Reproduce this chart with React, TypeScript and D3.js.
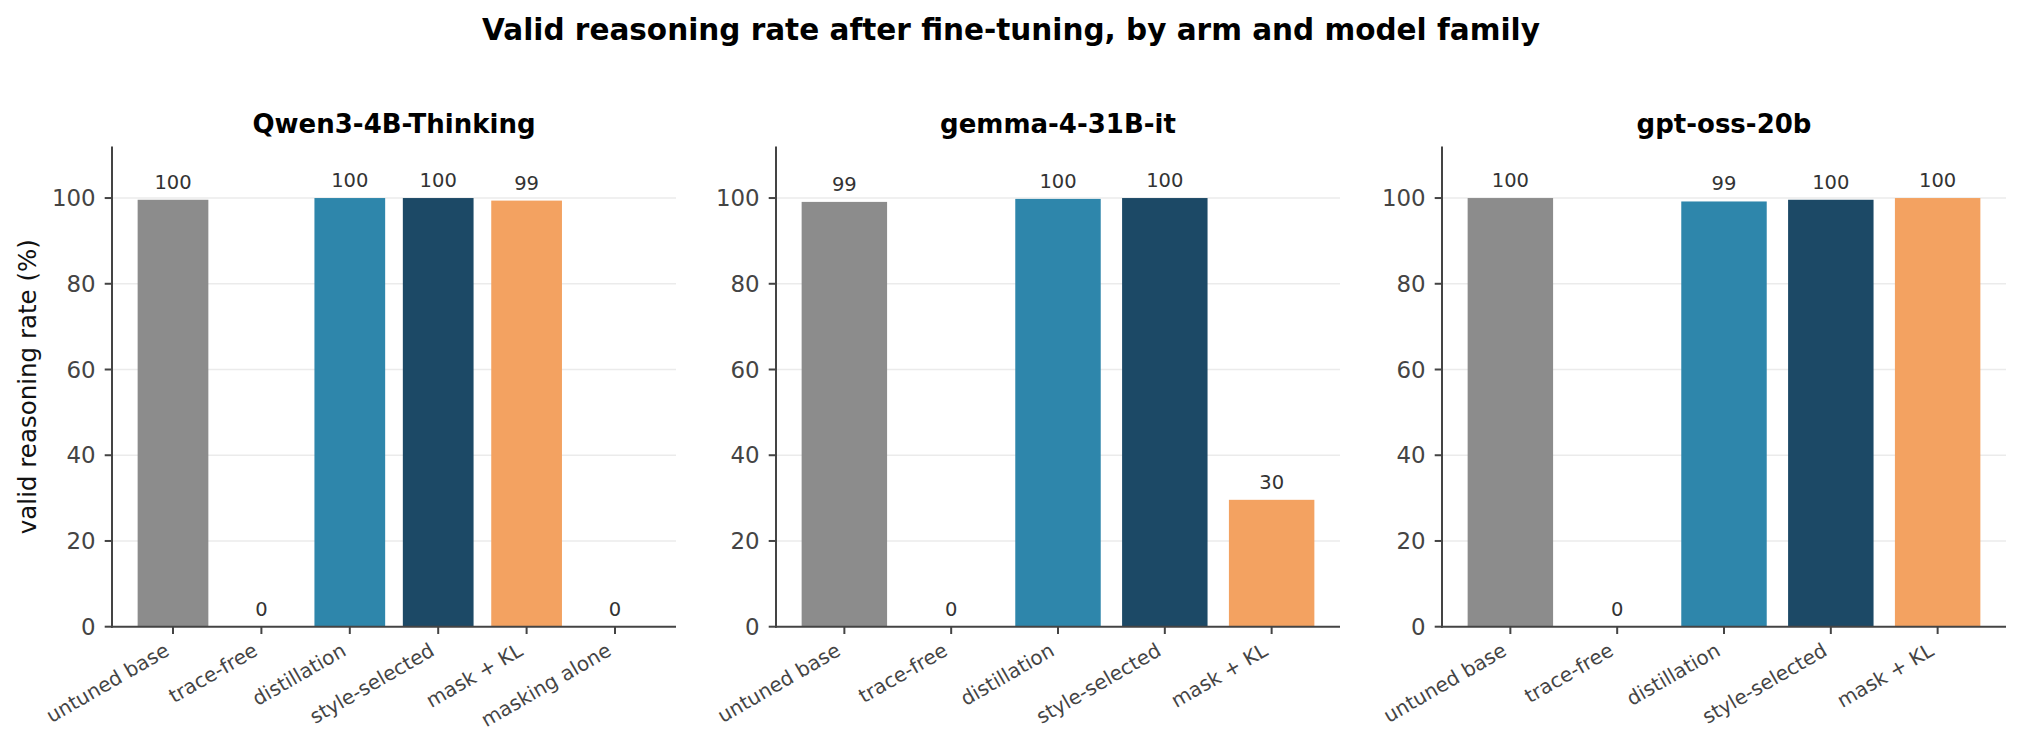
import * as d3 from 'd3';
import React, { useEffect, useRef } from 'react';

// chart data
const families = ['Qwen3-4B-Thinking', 'gemma-4-31B-it', 'gpt-oss-20b'];
const qwenArms = ['untuned base', 'trace-free', 'distillation', 'style-selected', 'mask + KL', 'masking alone'];
const qwenValues = [99.6, 0, 100, 100, 99.4, 0];
const gemmaArms = ['untuned base', 'trace-free', 'distillation', 'style-selected', 'mask + KL'];
const gemmaValues = [99.1, 0, 99.8, 100, 29.6];
const gptArms = ['untuned base', 'trace-free', 'distillation', 'style-selected', 'mask + KL'];
const gptValues = [100, 0, 99.2, 99.6, 100];
const yTicks = [0, 20, 40, 60, 80, 100];

const armColors: Record<string, string> = {
  'untuned base': '#8c8c8c',
  'trace-free': '#c44e52',
  'distillation': '#2e86ab',
  'style-selected': '#1c4966',
  'mask + KL': '#f3a261',
  'masking alone': '#e76f51',
};

const panels = [
  { title: families[0], arms: qwenArms, values: qwenValues },
  { title: families[1], arms: gemmaArms, values: gemmaValues },
  { title: families[2], arms: gptArms, values: gptValues },
];

const WIDTH = 2022;
const HEIGHT = 751;
const FONT = 'DejaVu Sans, sans-serif';

const App: React.FC = () => {
  const svgRef = useRef<SVGSVGElement>(null);

  useEffect(() => {
    if (!svgRef.current) return;
    const svg = d3.select(svgRef.current);
    svg.selectAll('*').remove();

    svg.append('rect').attr('width', WIDTH).attr('height', HEIGHT).attr('fill', '#fff');

    // suptitle
    svg.append('text')
      .attr('x', WIDTH / 2)
      .attr('y', 40)
      .attr('text-anchor', 'middle')
      .style('font-family', FONT)
      .style('font-size', '29.5px')
      .style('font-weight', 'bold')
      .text('Valid reasoning rate after fine-tuning, by arm and model family');

    const panelLefts = [112, 776, 1442];
    const panelWidth = 564;
    const y = d3.scaleLinear().domain([0, 112]).range([626.7, 146.6]);
    const tickLen = 7.3;
    const axisColor = '#444';

    panels.forEach((p, pi) => {
      const x0 = panelLefts[pi];
      const x1 = x0 + panelWidth;
      const n = p.arms.length;
      const pad = 0.05 * (n - 0.2);
      const x = d3.scaleLinear().domain([-0.4 - pad, n - 0.6 + pad]).range([x0, x1]);
      const bw = x(0.8) - x(0);

      const g = svg.append('g');

      // grid
      g.selectAll('.grid')
        .data(yTicks.filter(t => t > 0))
        .enter()
        .append('line')
        .attr('x1', x0)
        .attr('x2', x1)
        .attr('y1', d => y(d))
        .attr('y2', d => y(d))
        .attr('stroke', '#ebebeb')
        .attr('stroke-width', 1.6);

      // bars
      g.selectAll('.bar')
        .data(p.values)
        .enter()
        .append('rect')
        .attr('x', (_, i) => x(i) - bw / 2)
        .attr('y', d => y(d))
        .attr('width', bw)
        .attr('height', d => y(0) - y(d))
        .attr('fill', (_, i) => armColors[p.arms[i]]);

      // value labels
      g.selectAll('.val')
        .data(p.values)
        .enter()
        .append('text')
        .attr('x', (_, i) => x(i))
        .attr('y', d => y(d) - 11)
        .attr('text-anchor', 'middle')
        .style('font-family', FONT)
        .style('font-size', '19.5px')
        .style('fill', '#333')
        .text(d => d3.format('.0f')(d));

      // spines
      g.append('line')
        .attr('x1', x0).attr('x2', x0)
        .attr('y1', y(0) + 1).attr('y2', y(112))
        .attr('stroke', axisColor).attr('stroke-width', 2);
      g.append('line')
        .attr('x1', x0 - 1).attr('x2', x1)
        .attr('y1', y(0)).attr('y2', y(0))
        .attr('stroke', axisColor).attr('stroke-width', 2);

      // y ticks
      const yt = g.selectAll('.ytick').data(yTicks).enter().append('g');
      yt.append('line')
        .attr('x1', x0 - tickLen).attr('x2', x0)
        .attr('y1', d => y(d)).attr('y2', d => y(d))
        .attr('stroke', axisColor).attr('stroke-width', 2);
      yt.append('text')
        .attr('x', x0 - tickLen - 9)
        .attr('y', d => y(d))
        .attr('dy', '0.36em')
        .attr('text-anchor', 'end')
        .style('font-family', FONT)
        .style('font-size', '22.9px')
        .style('fill', axisColor)
        .text(d => d);

      // x ticks
      const fs = 20;
      const xt = g.selectAll('.xtick').data(p.arms).enter().append('g');
      xt.append('line')
        .attr('x1', (_, i) => x(i)).attr('x2', (_, i) => x(i))
        .attr('y1', y(0)).attr('y2', y(0) + tickLen)
        .attr('stroke', axisColor).attr('stroke-width', 2);
      xt.append('text')
        .attr('transform', (_, i) => {
          const ax = x(i) - 0.5 * 0.236 * fs;
          const ay = y(0) + tickLen * 2 + 0.866 * 0.76 * fs;
          return `translate(${ax},${ay}) rotate(-30)`;
        })
        .attr('text-anchor', 'end')
        .style('font-family', FONT)
        .style('font-size', `${fs}px`)
        .style('fill', axisColor)
        .text(d => d);

      // panel title
      g.append('text')
        .attr('x', (x0 + x1) / 2)
        .attr('y', 133)
        .attr('text-anchor', 'middle')
        .style('font-family', FONT)
        .style('font-size', '26px')
        .style('font-weight', 'bold')
        .text(p.title);

      if (pi === 0) {
        g.append('text')
          .attr('transform', `translate(36,${(y(0) + y(112)) / 2}) rotate(-90)`)
          .attr('text-anchor', 'middle')
          .style('font-family', FONT)
          .style('font-size', '24.5px')
          .style('fill', '#111')
          .text('valid reasoning rate (%)');
      }
    });
  }, []);

  return (
    <svg
      ref={svgRef}
      width={WIDTH}
      height={HEIGHT}
      style={{ position: 'absolute', left: 0, top: 0 }}
    />
  );
};

export default App;
